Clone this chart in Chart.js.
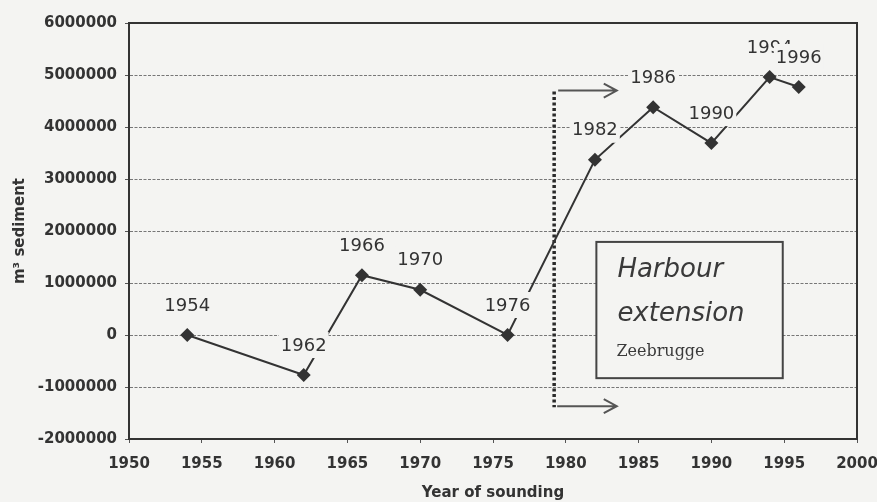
<!DOCTYPE html>
<html>
<head>
<meta charset="utf-8">
<script src="https://cdn.jsdelivr.net/npm/chart.js@4/dist/chart.umd.min.js"></script>
<style>
  html, body { margin: 0; padding: 0; background: #f4f4f2; }
  #wrap { width: 877px; height: 502px; }
</style>
</head>
<body>
<div id="wrap"><canvas id="sedimentChart" width="877" height="502"></canvas></div>
<script>
// sounding years and cumulative sediment volume (m³)
const years = [1954, 1962, 1966, 1970, 1976, 1982, 1986, 1990, 1994, 1996];
const sediment = [0, -770000, 1150000, 870000, 0, 3370000, 4380000, 3690000, 4960000, 4770000];

// axis ranges / ticks
const xTicks = [1950, 1955, 1960, 1965, 1970, 1975, 1980, 1985, 1990, 1995, 2000];
const yTicks = [-2000000, -1000000, 0, 1000000, 2000000, 3000000, 4000000, 5000000, 6000000];

// harbour extension marker (data space)
const extensionYear = 1979.2;
const arrowTo = 1983.5;
const arrowLevels = [4700000, -1370000];
const noteBox = { x0: 1982.1, x1: 1994.9, y0: 1790000, y1: -830000 };

const BG = "#f4f4f2";
const INK = "#333";

Chart.defaults.font.family = '"DejaVu Sans", "Liberation Sans", Arial, sans-serif';

const background = {
  id: "background",
  beforeDraw(chart) {
    const ctx = chart.ctx;
    ctx.save();
    ctx.fillStyle = BG;
    ctx.fillRect(0, 0, chart.width, chart.height);
    ctx.restore();
  },
};

function arrow(ctx, x0, x1, y) {
  ctx.beginPath();
  ctx.moveTo(x0, y);
  ctx.lineTo(x1, y);
  ctx.moveTo(x1 - 13, y - 7);
  ctx.lineTo(x1, y);
  ctx.lineTo(x1 - 13, y + 7);
  ctx.stroke();
}

const harbourNote = {
  id: "harbourNote",
  beforeDatasetsDraw(chart) {
    const { ctx, scales: { x, y } } = chart;
    const vx = x.getPixelForValue(extensionYear);
    const yTop = y.getPixelForValue(arrowLevels[0]);
    const yBot = y.getPixelForValue(arrowLevels[1]);
    ctx.save();
    // dotted vertical line
    ctx.strokeStyle = "#2a2a2a";
    ctx.lineWidth = 3.5;
    ctx.setLineDash([3, 2.5]);
    ctx.beginPath();
    ctx.moveTo(vx, yTop + 1);
    ctx.lineTo(vx, yBot + 1);
    ctx.stroke();
    ctx.setLineDash([]);
    // arrows
    ctx.lineWidth = 2;
    ctx.strokeStyle = "#555";
    const ax = x.getPixelForValue(arrowTo);
    arrow(ctx, vx + 4, ax, yTop);
    arrow(ctx, vx + 3, ax, yBot);
    // text box
    const bx0 = x.getPixelForValue(noteBox.x0);
    const bx1 = x.getPixelForValue(noteBox.x1);
    const by0 = y.getPixelForValue(noteBox.y0);
    const by1 = y.getPixelForValue(noteBox.y1);
    ctx.fillStyle = BG;
    ctx.fillRect(bx0, by0, bx1 - bx0, by1 - by0);
    ctx.strokeStyle = "#444";
    ctx.lineWidth = 2;
    ctx.strokeRect(bx0, by0, bx1 - bx0, by1 - by0);
    ctx.fillStyle = "#3a3a3a";
    ctx.textAlign = "left";
    ctx.textBaseline = "middle";
    ctx.font = 'oblique 26px "DejaVu Sans"';
    ctx.fillText("Harbour", bx0 + 21, by0 + 28);
    ctx.fillText("extension", bx0 + 21, by0 + 72);
    ctx.font = '16px "DejaVu Serif"';
    ctx.fillText("Zeebrugge", bx0 + 20, by0 + 110);
    ctx.restore();
  },
};

const pointLabels = {
  id: "pointLabels",
  afterDatasetsDraw(chart) {
    const ctx = chart.ctx;
    const meta = chart.getDatasetMeta(0);
    ctx.save();
    ctx.font = '18px "DejaVu Sans"';
    ctx.textAlign = "center";
    ctx.textBaseline = "middle";
    meta.data.forEach((pt, i) => {
      const txt = String(years[i]);
      const w = ctx.measureText(txt).width;
      const cx = pt.x;
      const cy = pt.y - 30;
      ctx.fillStyle = BG;
      ctx.fillRect(cx - w / 2 - 2, cy - 13, w + 4, 26);
      ctx.fillStyle = INK;
      ctx.fillText(txt, cx, cy + 1);
    });
    ctx.restore();
  },
};

const frame = {
  id: "frame",
  afterDraw(chart) {
    const { ctx, chartArea: a } = chart;
    ctx.save();
    ctx.strokeStyle = INK;
    ctx.lineWidth = 2;
    ctx.beginPath();
    ctx.moveTo(a.left, a.top);
    ctx.lineTo(a.right, a.top);
    ctx.lineTo(a.right, a.bottom);
    ctx.stroke();
    ctx.restore();
  },
};

const ctx = document.getElementById("sedimentChart").getContext("2d");
new Chart(ctx, {
  type: "line",
  data: {
    datasets: [
      {
        data: years.map((yr, i) => ({ x: yr, y: sediment[i] })),
        borderColor: INK,
        borderWidth: 2,
        backgroundColor: INK,
        pointStyle: "rectRot",
        pointRadius: 7,
        pointBorderWidth: 0,
        tension: 0,
        fill: false,
      },
    ],
  },
  options: {
    responsive: false,
    animation: false,
    layout: { padding: { top: 23, right: 20, left: 0, bottom: 0 } },
    plugins: { legend: { display: false }, tooltip: { enabled: false } },
    scales: {
      x: {
        type: "linear",
        min: xTicks[0],
        max: xTicks[xTicks.length - 1],
        afterBuildTicks: (s) => { s.ticks = xTicks.map((v) => ({ value: v })); },
        afterFit: (s) => {
          s.height = 63;
          s.paddingLeft = 0;
          s.paddingRight = 0;
        },
        grid: { drawOnChartArea: false, tickLength: 4, tickColor: "#555", tickWidth: 1 },
        border: { display: true, color: INK, width: 2 },
        ticks: {
          color: INK,
          padding: 12,
          maxRotation: 0,
          font: { size: 15, weight: "bold" },
          callback: (v) => String(v),
        },
        title: {
          display: true,
          text: "Year of sounding",
          color: INK,
          font: { size: 15, weight: "bold" },
          padding: { top: 0, bottom: 0 },
        },
      },
      y: {
        min: yTicks[0],
        max: yTicks[yTicks.length - 1],
        afterBuildTicks: (s) => { s.ticks = yTicks.map((v) => ({ value: v })); },
        afterFit: (s) => {
          s.width = 129;
          s.paddingTop = 0;
          s.paddingBottom = 0;
        },
        grid: {
          color: "#777",
          lineWidth: 1,
          tickLength: 4,
          tickColor: "#555",
          tickBorderDash: [],
        },
        border: { display: true, color: INK, width: 2, dash: [3, 1.5] },
        ticks: {
          color: INK,
          padding: 8,
          font: { size: 15, weight: "bold" },
          callback: (v) => String(v),
        },
        title: {
          display: true,
          text: "m³ sediment",
          color: INK,
          font: { size: 15, weight: "bold" },
          padding: { top: 11, bottom: 0 },
        },
      },
    },
  },
  plugins: [background, harbourNote, pointLabels, frame],
});
</script>
</body>
</html>
